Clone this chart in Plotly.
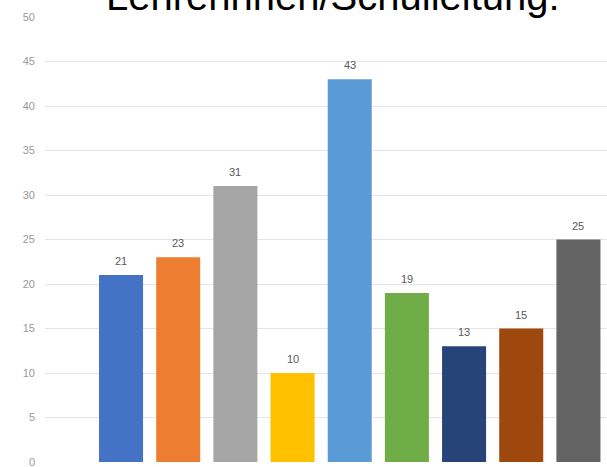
import plotly.graph_objects as go

categories = ["1", "2", "3", "4", "5", "6", "7", "8", "9"]
values = [21, 23, 31, 10, 43, 19, 13, 15, 25]
colors = ["#4472C4", "#ED7D31", "#A5A5A5", "#FFC000", "#5B9BD5",
          "#70AD47", "#264478", "#9E480E", "#636363"]
title_text = "Lehrerinnen/Schulleitung:"
y_ticks = [0, 5, 10, 15, 20, 25, 30, 35, 40, 45, 50]

xpos = list(range(len(categories)))

fig = go.Figure()
fig.add_trace(go.Bar(
    x=xpos, y=values, marker=dict(color=colors, line=dict(width=0)),
    showlegend=False, hoverinfo="skip", hovertext=categories,
))

for xi, v in zip(xpos, values):
    fig.add_annotation(x=xi, y=v, text=str(v), showarrow=False,
                       yanchor="bottom", yshift=6,
                       font=dict(family="Liberation Sans", size=11, color="#595959"))

fig.add_annotation(xref="paper", yref="paper", x=0.512, y=1, text=title_text,
                   showarrow=False, xanchor="center", yanchor="bottom", yshift=-3,
                   font=dict(family="Liberation Sans", size=40, color="#000000"))

fig.update_layout(
    width=607, height=467,
    margin=dict(l=45, r=0, t=17, b=5),
    paper_bgcolor="white", plot_bgcolor="white",
    bargap=0.23,
    xaxis=dict(range=[-1.33, 8.5], showticklabels=False, automargin=False,
               showgrid=False, zeroline=False, showline=False, ticks=""),
    yaxis=dict(range=[0, 50], tickvals=y_ticks, showgrid=True, gridcolor="#e4e4e4",
               gridwidth=1, zeroline=False, showline=False, ticks="",
               automargin=False, ticklabelstandoff=9, ticklabeloverflow="allow",
               tickfont=dict(family="Liberation Sans", size=11, color="#9a9a9a")),
)

fig.write_html("out.html", config={"displayModeBar": False},
               post_script="document.body.style.margin='0px';document.body.style.overflow='hidden';")
